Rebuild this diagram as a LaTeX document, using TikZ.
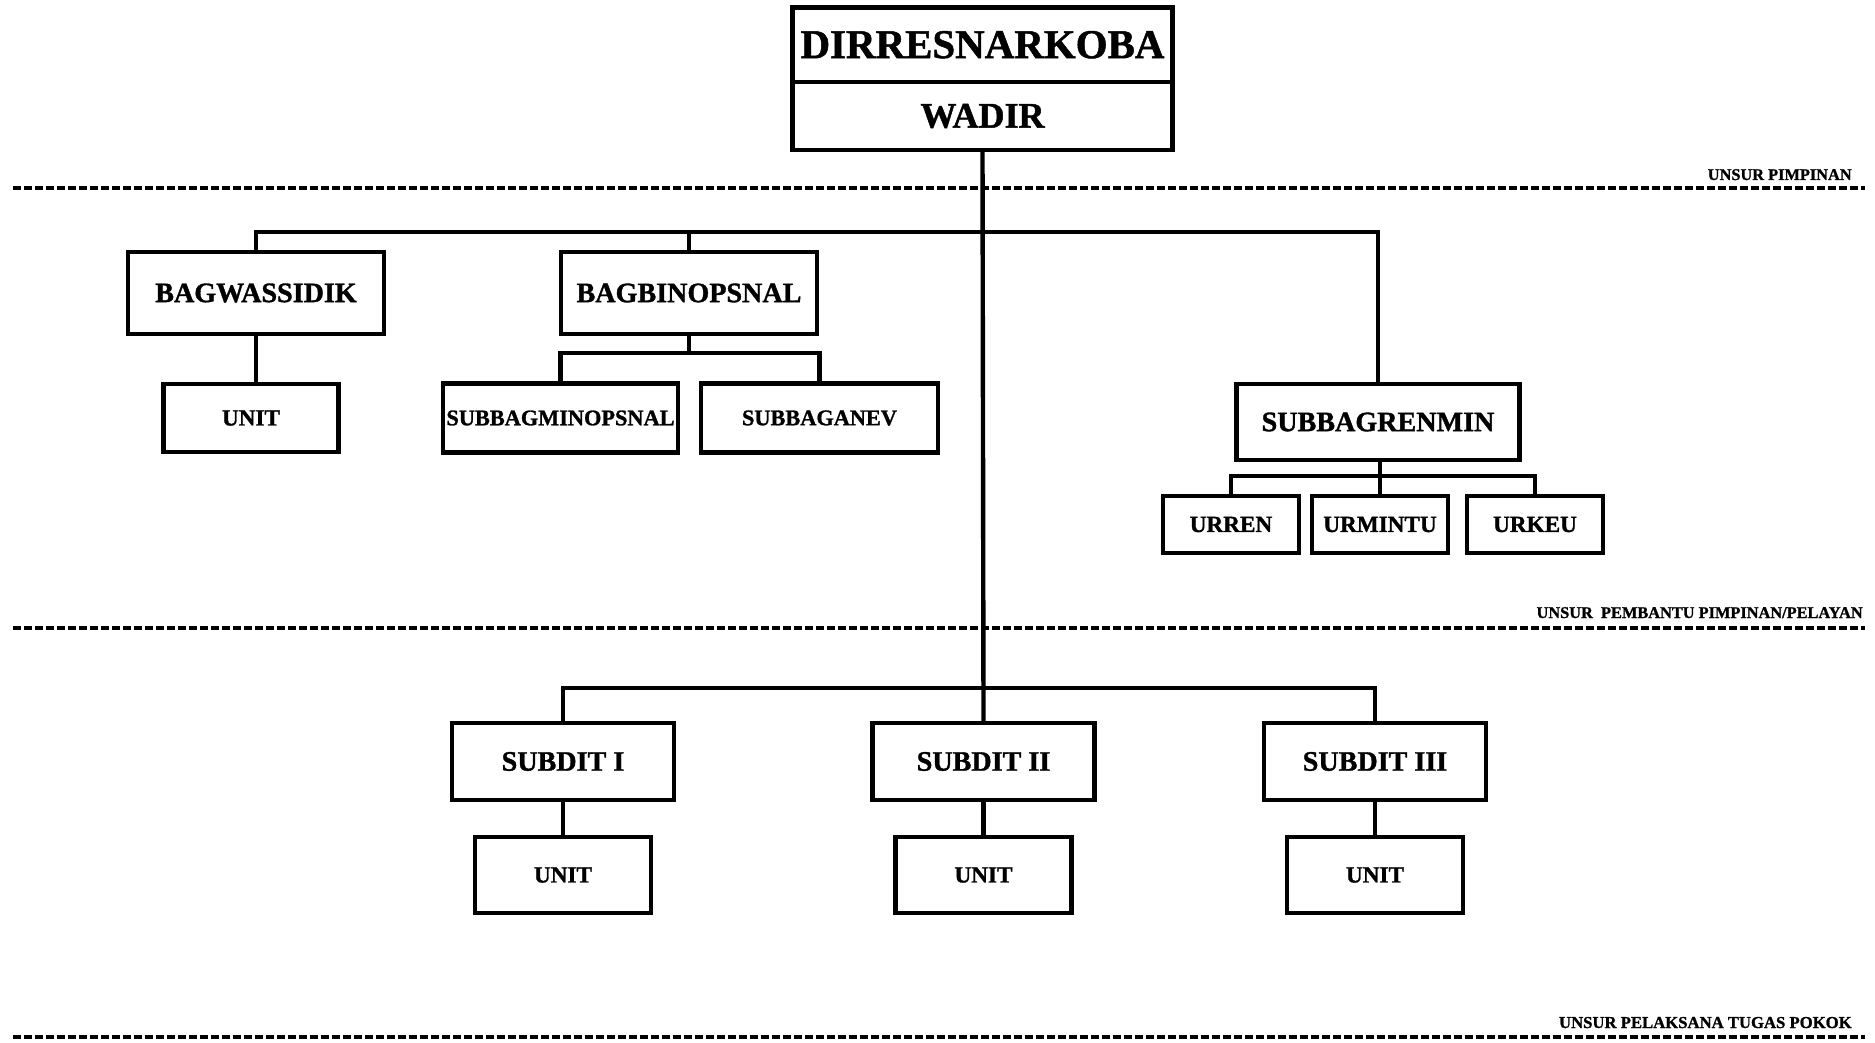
\documentclass[tikz,border=0pt]{standalone}
\usepackage{fontspec}
\setmainfont{Liberation Serif}[BoldFeatures={FakeBold=1.2}]
\usepackage{tikz}
\usetikzlibrary{calc}
\tikzset{
	box/.style={draw, line width=2.5pt, inner sep=0pt, align=center},
	conn/.style={line width=2.5pt},
	sepline/.style={line width=1.8pt, dash pattern=on 0.16cm off 0.06cm},
	huge/.style={font=\fontsize{23.3}{26}\selectfont\bfseries},
	big/.style={font=\fontsize{16}{19}\selectfont\bfseries},
	small/.style={font=\fontsize{13.2}{16}\selectfont\bfseries},
	lbl/.style={font=\fontsize{9.3}{11}\selectfont\bfseries, inner sep=0pt, anchor=base east}
}
\begin{document}
\begin{tikzpicture}[x=0.02cm, y=-0.02cm]
			%%%%% START %%%%%
			\useasboundingbox (0,0) rectangle (1875,1043);
			
			\node[box, huge, minimum width=7.6cm, minimum height=1.49cm] (dir) at (982.5,44.75) {DIRRESNARKOBA};
			\node[box, font=\fontsize{20.5}{24}\selectfont\bfseries, minimum width=7.6cm, minimum height=1.36cm] (wadir) at (982.5,116) {WADIR};
			
			\node[box, big, minimum width=5.12cm, minimum height=1.65cm] (bagwas) at (256,293) {BAGWASSIDIK};
			\node[box, small, minimum width=3.5cm, minimum height=1.36cm] (unita) at (251,418) {UNIT};
			
			\node[box, big, minimum width=5.12cm, minimum height=1.65cm] (bagbin) at (689,293) {BAGBINOPSNAL};
			\node[box, font=\fontsize{12.7}{15}\selectfont\bfseries, minimum width=4.7cm, minimum height=1.38cm] (subminops) at (560.5,418) {SUBBAGMINOPSNAL};
			\node[box, font=\fontsize{12.7}{15}\selectfont\bfseries, minimum width=4.74cm, minimum height=1.38cm] (subanev) at (819.5,418) {SUBBAGANEV};
			
			\node[box, big, minimum width=5.66cm, minimum height=1.52cm] (subrenmin) at (1378,422) {SUBBAGRENMIN};
			\node[box, small, minimum width=2.72cm, minimum height=1.14cm] (urren) at (1231,524.5) {URREN};
			\node[box, small, minimum width=2.72cm, minimum height=1.14cm] (urmintu) at (1380,524.5) {URMINTU};
			\node[box, small, minimum width=2.72cm, minimum height=1.14cm] (urkeu) at (1535,524.5) {URKEU};
			
			\node[box, big, minimum width=4.44cm, minimum height=1.54cm] (subdita) at (563,761.5) {SUBDIT I};
			\node[box, big, minimum width=4.44cm, minimum height=1.54cm] (subditb) at (983.5,761.5) {SUBDIT II};
			\node[box, big, minimum width=4.44cm, minimum height=1.54cm] (subditc) at (1375,761.5) {SUBDIT III};
			
			\node[box, small, minimum width=3.52cm, minimum height=1.52cm] (unitb) at (563,875) {UNIT};
			\node[box, small, minimum width=3.52cm, minimum height=1.52cm] (unitc) at (983.5,875) {UNIT};
			\node[box, small, minimum width=3.52cm, minimum height=1.52cm] (unitd) at (1375,875) {UNIT};
			
			% garis penghubung
			\coordinate (barA) at (982.5,232);
			\coordinate (barB) at (689,353);
			\coordinate (barC) at (1380,476);
			\coordinate (barD) at (983.5,688);
			
			\draw[conn] (wadir.south) -- (subditb.north);
			\draw[conn] (bagwas.north) |- (barA) -| (subrenmin.north);
			\draw[conn] (bagbin.north) -- (bagbin.north |- barA);
			\draw[conn] (bagwas.south) -- (bagwas.south |- unita.north);
			
			\draw[conn] (bagbin.south) -- (barB);
			\draw[conn] (subminops.north) |- (barB) -| (subanev.north);
			
			\draw[conn] (subrenmin.south -| urmintu.north) -- (urmintu.north);
			\draw[conn] (urren.north) |- (barC) -| (urkeu.north);
			
			\draw[conn] (subdita.north) |- (barD) -| (subditc.north);
			\draw[conn] (subdita.south) -- (unitb.north);
			\draw[conn] (subditb.south) -- (unitc.north);
			\draw[conn] (subditc.south) -- (unitd.north);
			
			% batas unsur
			\draw[sepline] (13,188) -- (1865,188);
			\draw[sepline] (13,628) -- (1865,628);
			\draw[sepline] (13,1037) -- (1865,1037);
			
			\node[lbl] (unsura) at (1852,180) {UNSUR PIMPINAN};
			\node[lbl] (unsurb) at (1863,618) {UNSUR\ \ PEMBANTU PIMPINAN/PELAYAN};
			\node[lbl, font=\fontsize{9.5}{11}\selectfont\bfseries] (unsurc) at (1852,1028) {UNSUR PELAKSANA TUGAS POKOK};
			
			%%%%% END %%%%%
		\end{tikzpicture}
\end{document}
